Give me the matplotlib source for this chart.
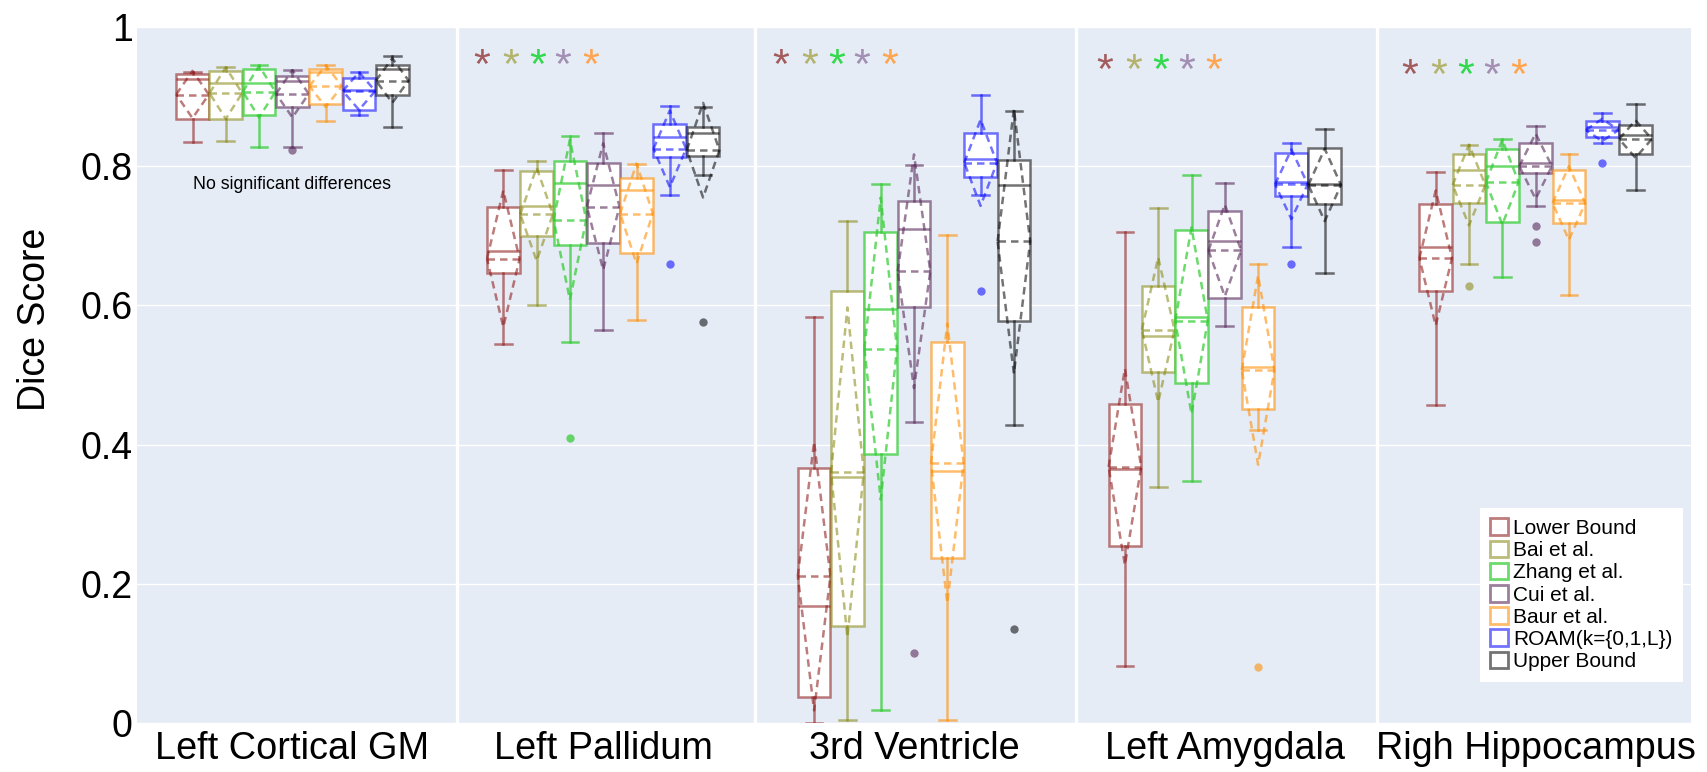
import numpy as np
import matplotlib.pyplot as plt
from matplotlib.patches import Patch

plt.rcParams['font.family'] = ['Liberation Sans', 'DejaVu Sans']

regions = ['Left Cortical GM', 'Left Pallidum', '3rd Ventricle', 'Left Amygdala', 'Righ Hippocampus']
methods = ['Lower Bound', 'Bai et al.', 'Zhang et al.', 'Cui et al.', 'Baur et al.',
           'ROAM(k={0,1,L})', 'Upper Bound']

# one row per method, one column per region
whislo = [[0.835, 0.545, 0.000, 0.082, 0.457],
          [0.836, 0.600, 0.005, 0.339, 0.660],
          [0.828, 0.548, 0.018, 0.348, 0.641],
          [0.827, 0.565, 0.433, 0.570, 0.743],
          [0.865, 0.579, 0.005, 0.421, 0.615],
          [0.874, 0.758, 0.759, 0.684, 0.834],
          [0.856, 0.787, 0.428, 0.646, 0.766]]
q1 = [[0.868, 0.647, 0.037, 0.254, 0.621],
      [0.868, 0.699, 0.139, 0.505, 0.747],
      [0.873, 0.687, 0.387, 0.489, 0.720],
      [0.885, 0.690, 0.598, 0.611, 0.790],
      [0.889, 0.676, 0.237, 0.451, 0.719],
      [0.881, 0.813, 0.785, 0.757, 0.842],
      [0.902, 0.814, 0.578, 0.746, 0.818]]
med = [[0.925, 0.678, 0.168, 0.365, 0.684],
       [0.920, 0.743, 0.353, 0.556, 0.794],
       [0.920, 0.776, 0.595, 0.584, 0.801],
       [0.923, 0.773, 0.710, 0.692, 0.804],
       [0.935, 0.766, 0.362, 0.512, 0.752],
       [0.909, 0.842, 0.811, 0.777, 0.857],
       [0.939, 0.847, 0.773, 0.774, 0.845]]
q3 = [[0.932, 0.742, 0.367, 0.459, 0.746],
      [0.937, 0.793, 0.621, 0.628, 0.817],
      [0.939, 0.808, 0.705, 0.709, 0.824],
      [0.929, 0.805, 0.750, 0.736, 0.833],
      [0.939, 0.783, 0.547, 0.597, 0.794],
      [0.927, 0.860, 0.848, 0.819, 0.865],
      [0.946, 0.857, 0.809, 0.826, 0.859]]
whishi = [[0.936, 0.795, 0.584, 0.706, 0.791],
          [0.943, 0.808, 0.721, 0.740, 0.831],
          [0.945, 0.844, 0.774, 0.788, 0.839],
          [0.938, 0.848, 0.802, 0.776, 0.858],
          [0.945, 0.803, 0.701, 0.659, 0.817],
          [0.935, 0.886, 0.903, 0.834, 0.877],
          [0.958, 0.885, 0.880, 0.854, 0.890]]
mean = [[0.903, 0.667, 0.211, 0.368, 0.668],
        [0.905, 0.731, 0.360, 0.565, 0.773],
        [0.907, 0.723, 0.538, 0.578, 0.777],
        [0.904, 0.742, 0.649, 0.679, 0.800],
        [0.915, 0.732, 0.373, 0.507, 0.747],
        [0.908, 0.825, 0.805, 0.774, 0.852],
        [0.923, 0.823, 0.692, 0.773, 0.839]]
sd = [[0.034, 0.098, 0.193, 0.141, 0.097],
      [0.037, 0.067, 0.237, 0.104, 0.058],
      [0.037, 0.115, 0.217, 0.134, 0.061],
      [0.034, 0.091, 0.168, 0.066, 0.047],
      [0.030, 0.072, 0.201, 0.136, 0.053],
      [0.027, 0.055, 0.062, 0.050, 0.016],
      [0.032, 0.068, 0.190, 0.052, 0.027]]
fliers = [[[], [], [], [], []],
          [[], [], [], [], [0.628]],
          [[], [0.41], [], [], []],
          [[0.823], [], [0.10], [], [0.714, 0.691]],
          [[], [], [], [0.081], []],
          [[], [0.659], [0.620], [0.659], [0.805]],
          [[], [0.576], [0.135], [], []]]

colors = [(0.55, 0.08, 0.08, 0.56), (0.5, 0.5, 0.0, 0.52), (0.2, 0.8, 0.2, 0.72),
          (0.35, 0.16, 0.35, 0.6), (1.0, 0.55, 0.0, 0.58), (0.0, 0.0, 1.0, 0.55),
          (0.0, 0.0, 0.0, 0.55)]
star_colors = ['#a35c5c', '#b3b36e', '#33d94d', '#a38fb3', '#ffa54f']
star_x = [0.609, 1.571, 2.615, 3.596]
star_y = [0.953, 0.952, 0.946, 0.938]
star_step = [0.0, 0.093, 0.18, 0.262, 0.35]
separators = [0.53, 1.49, 2.52, 3.49]

fig = plt.figure(figsize=(17.07, 7.72), dpi=100)
ax = fig.add_axes([137 / 1707, 49 / 772, 1554 / 1707, 696 / 772])
ax.set_facecolor('#e5ecf6')

slot = 0.75 / len(methods)
lw = 1.8
dash = (0, (3, 2))
for j, name in enumerate(methods):
    c = colors[j]
    stats = []
    for i in range(len(regions)):
        stats.append(dict(whislo=whislo[j][i], q1=q1[j][i], med=med[j][i], q3=q3[j][i],
                          whishi=whishi[j][i], mean=mean[j][i], fliers=fliers[j][i]))
    pos = np.arange(len(regions)) + (j - 3) * slot
    ax.bxp(stats, positions=pos, widths=slot * 0.98, capwidths=slot * 0.5,
           patch_artist=True, showmeans=True, meanline=True, manage_ticks=False,
           boxprops=dict(facecolor='white', edgecolor=c, linewidth=lw),
           whiskerprops=dict(color=c, linewidth=lw),
           capprops=dict(color=c, linewidth=lw),
           medianprops=dict(color=c, linewidth=lw),
           meanprops=dict(color=c, linewidth=lw, linestyle=dash),
           flierprops=dict(marker='o', markersize=6, markerfacecolor=c,
                           markeredgecolor='none'),
           zorder=3 + j)
    # mean +/- sd diamond
    for i, p in enumerate(pos):
        m, s = mean[j][i], sd[j][i]
        h = slot * 0.49
        ax.plot([p - h, p, p + h, p, p - h], [m, m + s, m, m - s, m],
                color=c, lw=lw, linestyle=dash, zorder=3 + j)

for x in separators:
    ax.axvline(x, color='white', lw=2.4, zorder=1)

for k, x0 in enumerate(star_x):
    for n, sc in enumerate(star_colors):
        ax.annotate('*', (x0 + star_step[n], star_y[k]), xytext=(0, -13),
                    textcoords='offset points', ha='center', va='baseline',
                    fontsize=31, color=sc)

ax.text(0, 0.774, 'No significant differences', ha='center', va='center', fontsize=12.8)

ax.set_xlim(-0.5, 4.5)
ax.set_ylim(0, 1)
ax.set_xticks(range(len(regions)))
ax.set_xticklabels(regions, fontsize=27.3)
ax.set_yticks([0, 0.2, 0.4, 0.6, 0.8, 1])
ax.set_yticklabels(['0', '0.2', '0.4', '0.6', '0.8', '1'], fontsize=27)
ax.tick_params(axis='both', length=0)
ax.tick_params(axis='x', pad=6)
ax.tick_params(axis='y', pad=3)
ax.yaxis.grid(True, color='white', lw=1.0, zorder=0)
ax.set_axisbelow(True)
for sp in ax.spines.values():
    sp.set_visible(False)

fig.text(35 / 1707, 1 - 319 / 772, 'Dice Score', rotation=90, fontsize=27,
         ha='center', va='center')

handles = [Patch(facecolor='white', edgecolor=colors[j], linewidth=2, label=m)
           for j, m in enumerate(methods)]
leg = ax.legend(handles=handles, loc='upper left', bbox_to_anchor=(0.864, 0.309),
                borderaxespad=0, fontsize=15, handlelength=0.85, handleheight=0.85,
                handletextpad=0.25, labelspacing=0.13, borderpad=0.5,
                frameon=True, fancybox=False, framealpha=1)
leg.get_frame().set_facecolor('white')
leg.get_frame().set_edgecolor('none')
leg.set_zorder(20)

fig.savefig('out.png', dpi=100)
